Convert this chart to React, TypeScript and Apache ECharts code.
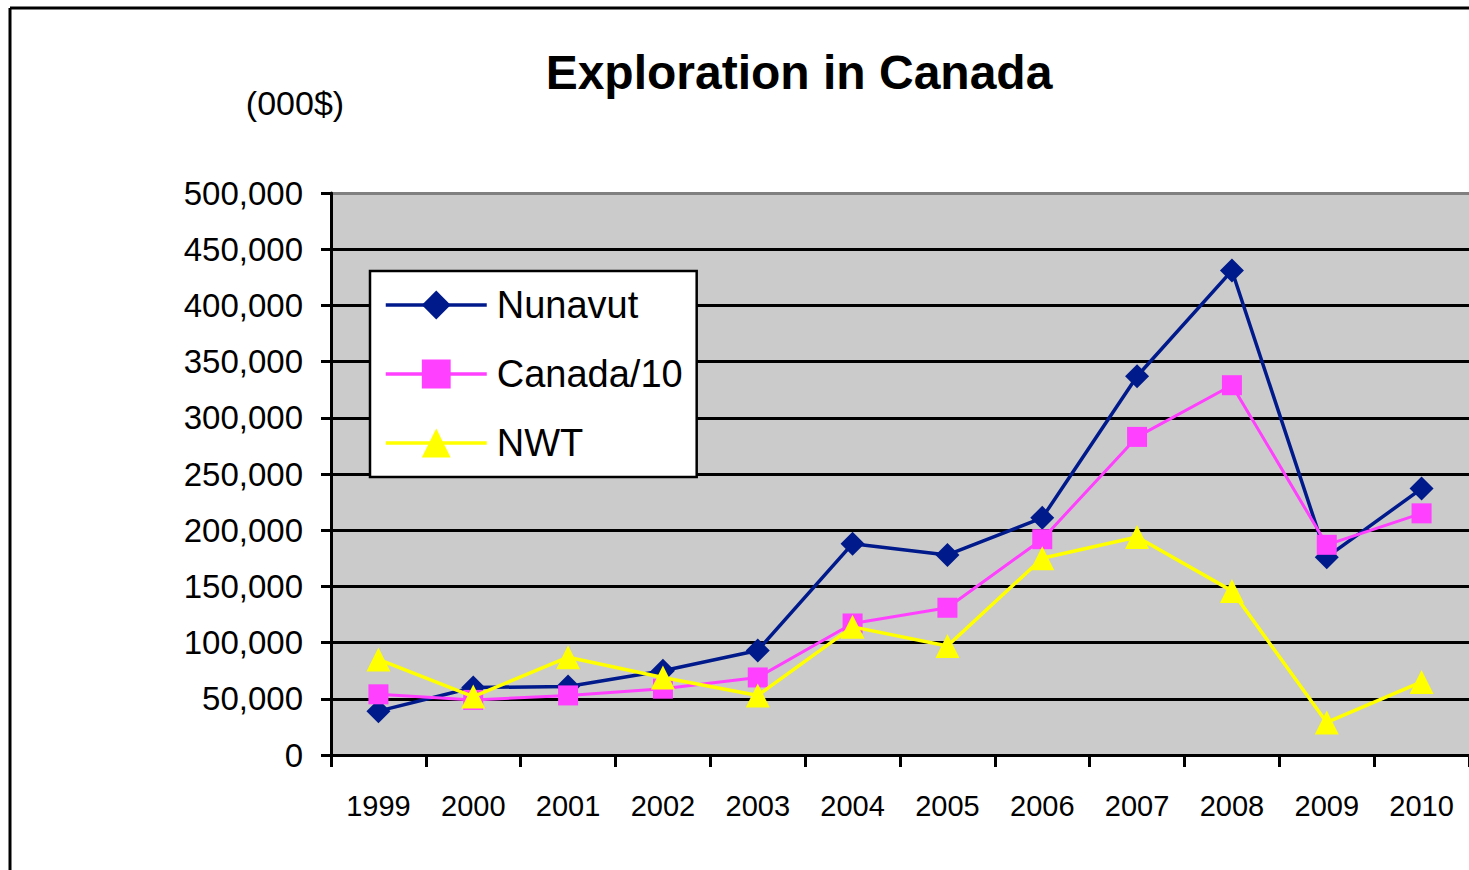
import React, { useEffect, useRef } from "react";
import * as echarts from "echarts";

const years = ["1999", "2000", "2001", "2002", "2003", "2004", "2005", "2006", "2007", "2008", "2009", "2010"];
const nunavut = [39000, 60000, 61000, 75000, 93000, 188000, 178000, 211000, 337000, 431000, 176000, 237000];
const canada10 = [54000, 49000, 53000, 59000, 69000, 117000, 131000, 192000, 283000, 329000, 187000, 215000];
const nwt = [85000, 52000, 87000, 69000, 53000, 114000, 97000, 175000, 194000, 146000, 29000, 65000];

const FONT = "'Liberation Sans', Arial, sans-serif";

export default function App() {
  const ref = useRef<HTMLDivElement>(null);
  useEffect(() => {
    if (!ref.current) return;
    const chart = echarts.init(ref.current, undefined, { renderer: "svg" });
    const splitColors = Array.from({ length: 11 }, (_, i) => (i === 10 ? "#808080" : "#000000"));
    chart.setOption({
      animation: false,
      backgroundColor: "#ffffff",
      title: {
        text: "Exploration in Canada",
        left: 794,
        top: 43,
        textAlign: "center",
        textStyle: { fontFamily: FONT, fontWeight: "bold", fontSize: 48, color: "#000" },
      },
      graphic: [
        { type: "line", shape: { x1: 10, y1: 8, x2: 1469, y2: 8 }, style: { stroke: "#000", lineWidth: 3 } },
        { type: "line", shape: { x1: 10, y1: 8, x2: 10, y2: 870 }, style: { stroke: "#000", lineWidth: 3 } },
        {
          type: "text",
          x: 295,
          y: 103,
          style: { text: "(000$)", fontFamily: FONT, fontSize: 34, fill: "#000", align: "center", verticalAlign: "middle" },
        },
      ],
      grid: {
        left: 331,
        top: 193,
        right: -5,
        bottom: 115,
        show: true,
        backgroundColor: "#cbcbcb",
        borderWidth: 0,
      },
      legend: {
        orient: "vertical",
        left: 370,
        top: 271,
        width: 327,
        padding: [14, 14, 14, 14],
        backgroundColor: "#ffffff",
        borderColor: "#000000",
        borderWidth: 2.5,
        itemWidth: 101,
        itemHeight: 36,
        itemGap: 29,
        lineStyle: { width: 3.5 },
        textStyle: { fontFamily: FONT, fontSize: 38, color: "#000", lineHeight: 40, padding: [0, 0, 0, 5] },
        data: ["Nunavut", "Canada/10", "NWT"],
      },
      xAxis: {
        type: "category",
        data: years,
        boundaryGap: true,
        axisLine: { lineStyle: { color: "#000", width: 3 } },
        axisTick: { show: true, length: 12, lineStyle: { color: "#000", width: 3 } },
        axisLabel: { fontFamily: FONT, fontSize: 29, color: "#000", margin: 36 },
      },
      yAxis: {
        type: "value",
        min: 0,
        max: 500000,
        interval: 50000,
        axisLine: { show: true, lineStyle: { color: "#000", width: 3 } },
        axisTick: { show: true, length: 10, lineStyle: { color: "#000", width: 3 } },
        axisLabel: {
          fontFamily: FONT,
          fontSize: 33,
          color: "#000",
          margin: 28,
          formatter: (v: number) => v.toLocaleString("en-US"),
        },
        splitLine: { show: true, lineStyle: { color: splitColors, width: 3 } },
      },
      series: [
        {
          name: "Nunavut",
          type: "line",
          data: nunavut,
          symbol: "diamond",
          symbolSize: 24,
          itemStyle: { color: "#001a8c" },
          lineStyle: { color: "#001a8c", width: 3.5 },
          z: 3,
        },
        {
          name: "Canada/10",
          type: "line",
          data: canada10,
          symbol: "rect",
          symbolSize: 20,
          itemStyle: { color: "#ff40ff" },
          lineStyle: { color: "#ff40ff", width: 3 },
          z: 4,
        },
        {
          name: "NWT",
          type: "line",
          data: nwt,
          symbol: "triangle",
          symbolSize: 24,
          itemStyle: { color: "#ffff00" },
          lineStyle: { color: "#ffff00", width: 3.5 },
          z: 5,
        },
      ],
    });
    return () => chart.dispose();
  }, []);
  return (
    <div
      ref={ref}
      style={{ position: "absolute", left: 0, top: 0, width: 1469, height: 870 }}
    />
  );
}
